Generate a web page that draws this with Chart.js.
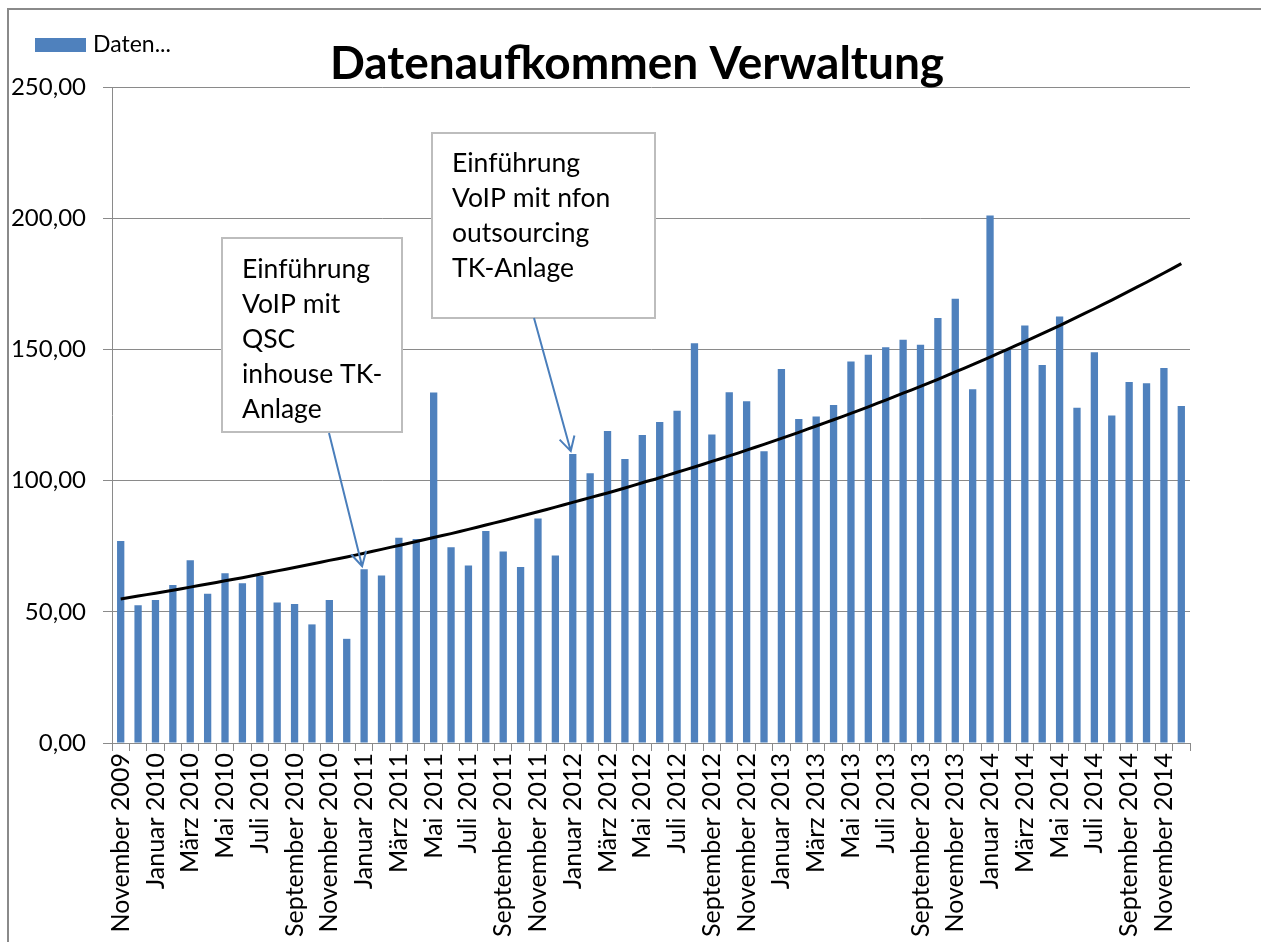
<!DOCTYPE html>
<html lang="de">
<head>
<meta charset="UTF-8">
<title>Datenaufkommen Verwaltung</title>
<style>
    body { margin: 0; background: #fff; }
    .wrap { width: 1261px; height: 942px; position: relative; }
</style>
</head>
<body>
<div class="wrap"><canvas id="chart"></canvas></div>

<script src="https://cdn.jsdelivr.net/npm/chart.js"></script>
<script>
    // Monate November 2009 bis Dezember 2014
    const monate = [
        'November 2009', 'Dezember 2009',
        'Januar 2010', 'Februar 2010', 'März 2010', 'April 2010', 'Mai 2010', 'Juni 2010',
        'Juli 2010', 'August 2010', 'September 2010', 'Oktober 2010', 'November 2010', 'Dezember 2010',
        'Januar 2011', 'Februar 2011', 'März 2011', 'April 2011', 'Mai 2011', 'Juni 2011',
        'Juli 2011', 'August 2011', 'September 2011', 'Oktober 2011', 'November 2011', 'Dezember 2011',
        'Januar 2012', 'Februar 2012', 'März 2012', 'April 2012', 'Mai 2012', 'Juni 2012',
        'Juli 2012', 'August 2012', 'September 2012', 'Oktober 2012', 'November 2012', 'Dezember 2012',
        'Januar 2013', 'Februar 2013', 'März 2013', 'April 2013', 'Mai 2013', 'Juni 2013',
        'Juli 2013', 'August 2013', 'September 2013', 'Oktober 2013', 'November 2013', 'Dezember 2013',
        'Januar 2014', 'Februar 2014', 'März 2014', 'April 2014', 'Mai 2014', 'Juni 2014',
        'Juli 2014', 'August 2014', 'September 2014', 'Oktober 2014', 'November 2014', 'Dezember 2014'
    ];

    const datenaufkommen = [
        77.0, 52.5, 54.5, 60.2, 69.6, 56.9, 64.7, 60.9, 63.6, 53.5,
        53.0, 45.2, 54.5, 39.7, 66.2, 63.8, 78.2, 77.7, 133.6, 74.6,
        67.6, 80.8, 73.0, 67.1, 85.6, 71.5, 110.1, 102.8, 118.9, 108.2,
        117.4, 122.3, 126.6, 152.3, 117.6, 133.7, 130.2, 111.2, 142.5, 123.5,
        124.4, 128.8, 145.4, 148.0, 150.8, 153.7, 151.8, 162.0, 169.3, 134.8,
        201.0, 150.0, 159.1, 144.1, 162.5, 127.8, 148.9, 124.8, 137.6, 137.1,
        142.9, 128.4
    ];

    // Trendlinie
    const trend = [
        54.9, 56.0, 57.1, 58.2, 59.4, 60.6, 61.8, 63.0, 64.3, 65.6,
        66.9, 68.2, 69.6, 70.9, 72.3, 73.8, 75.3, 76.8, 78.3, 79.8,
        81.4, 83.1, 84.7, 86.4, 88.1, 89.9, 91.7, 93.5, 95.3, 97.2,
        99.2, 101.1, 103.2, 105.2, 107.3, 109.4, 111.6, 113.8, 116.1, 118.4,
        120.8, 123.2, 125.6, 128.1, 130.7, 133.3, 135.9, 138.6, 141.4, 144.2,
        147.1, 150.0, 153.0, 156.0, 159.1, 162.3, 165.5, 168.8, 172.2, 175.6,
        179.1, 182.7
    ];

    const notizen = [
        { zeilen: ['Einführung', 'VoIP mit', 'QSC', 'inhouse TK-', 'Anlage'], monat: 14 },
        { zeilen: ['Einführung', 'VoIP mit nfon', 'outsourcing', 'TK-Anlage'], monat: 26 }
    ];

    const FONT = 'Lato, "Open Sans", sans-serif';
    const BLAU = '#4f81bd';
    const GRAU = '#8a8a8a';

    // Rahmen, Titel, Legende und Textfelder
    const extras = {
        id: 'extras',
        afterDraw(chart) {
            const ctx = chart.ctx;
            const x = chart.scales.x, y = chart.scales.y;
            ctx.save();

            ctx.strokeStyle = GRAU;
            ctx.lineWidth = 2;
            ctx.beginPath();
            ctx.moveTo(8, 942);
            ctx.lineTo(8, 9);
            ctx.lineTo(1261, 9);
            ctx.stroke();

            ctx.fillStyle = '#000';
            ctx.font = 'bold 46px ' + FONT;
            ctx.textAlign = 'center';
            ctx.textBaseline = 'alphabetic';
            ctx.fillText('Datenaufkommen Verwaltung', 637, 79);

            ctx.fillStyle = BLAU;
            ctx.fillRect(35, 38, 51, 14);
            ctx.fillStyle = '#000';
            ctx.font = '23px ' + FONT;
            ctx.textAlign = 'left';
            ctx.textBaseline = 'middle';
            ctx.fillText(chart.data.datasets[0].label, 93, 45);

            const boxen = [
                { rect: [222, 238, 180, 194], von: [329, 433], erste: 40 },
                { rect: [432, 133, 223, 185], von: [534, 318], erste: 39 }
            ];
            notizen.forEach((n, i) => {
                const b = boxen[i];
                const [bx, by, bw, bh] = b.rect;
                ctx.fillStyle = '#fff';
                ctx.fillRect(bx, by, bw, bh);
                ctx.strokeStyle = '#bdbdbd';
                ctx.lineWidth = 2;
                ctx.strokeRect(bx, by, bw, bh);
                ctx.fillStyle = '#000';
                ctx.font = '26.5px ' + FONT;
                ctx.textBaseline = 'alphabetic';
                n.zeilen.forEach((z, k) => ctx.fillText(z, bx + 20, by + b.erste + k * 35));

                // Pfeil zum Balken
                const tx = x.getPixelForValue(n.monat) - 2;
                const ty = y.getPixelForValue(datenaufkommen[n.monat]) - 3;
                const [fx, fy] = b.von;
                const ang = Math.atan2(ty - fy, tx - fx);
                ctx.strokeStyle = '#4a7ebb';
                ctx.lineWidth = 2;
                ctx.beginPath();
                ctx.moveTo(fx, fy);
                ctx.lineTo(tx, ty);
                ctx.moveTo(tx - 16 * Math.cos(ang - 0.5), ty - 16 * Math.sin(ang - 0.5));
                ctx.lineTo(tx, ty);
                ctx.lineTo(tx - 16 * Math.cos(ang + 0.5), ty - 16 * Math.sin(ang + 0.5));
                ctx.stroke();
            });
            ctx.restore();
        }
    };

    new Chart(document.getElementById('chart'), {
        data: {
            labels: monate,
            datasets: [{
                type: 'bar',
                label: 'Daten...',
                data: datenaufkommen,
                backgroundColor: BLAU,
                categoryPercentage: 1,
                barPercentage: 0.42,
                order: 1
            }, {
                type: 'line',
                label: 'Trend',
                data: trend,
                borderColor: '#000',
                borderWidth: 3,
                pointRadius: 0,
                tension: 0.3,
                fill: false,
                order: 0
            }]
        },
        options: {
            responsive: true,
            maintainAspectRatio: false,
            animation: false,
            layout: { padding: { top: 87, right: 71, left: 0, bottom: 0 } },
            plugins: {
                legend: { display: false },
                title: { display: false },
                tooltip: { enabled: false }
            },
            scales: {
                x: {
                    type: 'category',
                    offset: true,
                    grid: { offset: true, drawOnChartArea: false, drawTicks: true, tickLength: 8, color: GRAU },
                    border: { color: GRAU },
                    ticks: {
                        autoSkip: false,
                        maxRotation: 90,
                        minRotation: 90,
                        padding: 2,
                        color: '#000',
                        font: { family: FONT, size: 25 },
                        callback: function (v, i) { return i % 2 === 0 ? this.getLabelForValue(v) : ''; }
                    },
                    afterFit: s => { s.height = 199; }
                },
                y: {
                    min: 0,
                    max: 250,
                    grid: { color: GRAU, tickLength: 9 },
                    border: { color: GRAU },
                    ticks: {
                        stepSize: 50,
                        padding: 17,
                        color: '#000',
                        font: { family: FONT, size: 24 },
                        callback: v => v.toFixed(2).replace('.', ',')
                    },
                    afterFit: s => { s.width = 112; }
                }
            }
        },
        plugins: [extras]
    });
</script>
</body>
</html>
